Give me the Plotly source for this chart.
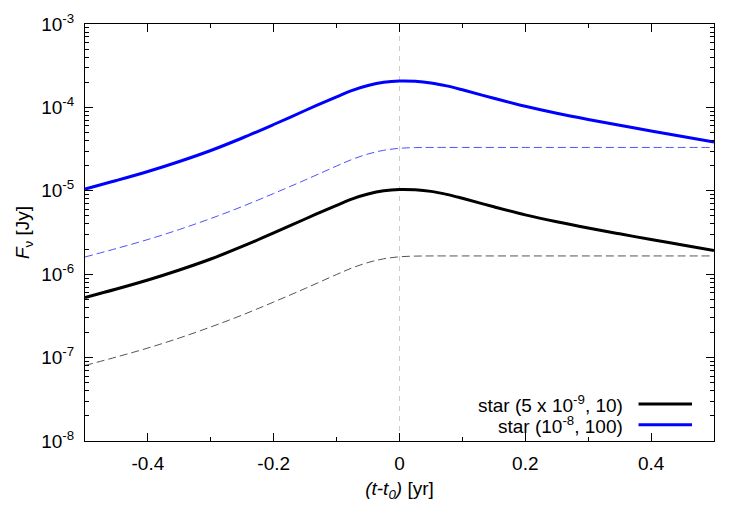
import plotly.graph_objects as go

# time relative to peak [yr]
t_solid = [-0.5, -0.45, -0.4, -0.35, -0.3, -0.25, -0.2, -0.15, -0.1, -0.075, -0.05, -0.025, 0.0,
           0.025, 0.05, 0.075, 0.1, 0.15, 0.2, 0.25, 0.3, 0.35, 0.4, 0.45, 0.5]
blue_solid = [1.051e-5, 1.329e-5, 1.704e-5, 2.246e-5, 3.043e-5, 4.297e-5, 6.236e-5, 9.18e-5, 1.340e-4, 1.604e-4,
              1.831e-4, 2.000e-4, 2.073e-4, 2.056e-4, 1.967e-4, 1.811e-4, 1.626e-4, 1.286e-4, 1.031e-4, 8.50e-5,
              7.16e-5, 6.10e-5, 5.21e-5, 4.48e-5, 3.85e-5]
black_solid = [5.25e-7, 6.64e-7, 8.52e-7, 1.123e-6, 1.52e-6, 2.15e-6, 3.12e-6, 4.59e-6, 6.70e-6, 8.02e-6,
               9.16e-6, 1.0e-5, 1.037e-5, 1.028e-5, 9.84e-6, 9.06e-6, 8.13e-6, 6.43e-6, 5.15e-6, 4.25e-6,
               3.58e-6, 3.05e-6, 2.60e-6, 2.24e-6, 1.92e-6]

t_dash = [-0.5, -0.45, -0.4, -0.35, -0.3, -0.25, -0.2, -0.15, -0.1, -0.075, -0.05, -0.025, 0.0,
          0.025, 0.05, 0.1, 0.2, 0.3, 0.4, 0.5]
blue_dash = [1.608e-6, 2.033e-6, 2.607e-6, 3.436e-6, 4.655e-6, 6.482e-6, 9.284e-6, 1.348e-5, 1.983e-5, 2.386e-5,
             2.763e-5, 3.059e-5, 3.233e-5, 3.296e-5, 3.31e-5, 3.31e-5, 3.31e-5, 3.31e-5, 3.31e-5, 3.31e-5]
black_dash = [8.04e-8, 1.017e-7, 1.303e-7, 1.718e-7, 2.33e-7, 3.24e-7, 4.64e-7, 6.74e-7, 9.92e-7, 1.193e-6,
              1.38e-6, 1.53e-6, 1.617e-6, 1.648e-6, 1.655e-6, 1.655e-6, 1.655e-6, 1.655e-6, 1.655e-6, 1.655e-6]

legend_labels = ["star (5 x 10<sup>-9</sup>, 10)", "star (10<sup>-8</sup>, 100)"]
legend_colors = ["black", "blue"]

x_tickvals = [-0.4, -0.2, 0, 0.2, 0.4]
x_ticktext = ["-0.4", "-0.2", "0", "0.2", "0.4"]
y_tickvals = [1e-8, 1e-7, 1e-6, 1e-5, 1e-4, 1e-3]
y_ticktext = ["10<sup>-8</sup>", "10<sup>-7</sup>", "10<sup>-6</sup>", "10<sup>-5</sup>", "10<sup>-4</sup>", "10<sup>-3</sup>"]

FONT = "Liberation Sans, Arial, sans-serif"
FS = 19

fig = go.Figure()
fig.add_trace(go.Scatter(x=t_dash, y=black_dash, mode="lines", line=dict(color="#555555", width=1, dash="8px,4px", shape="spline"), showlegend=False))
fig.add_trace(go.Scatter(x=t_dash, y=blue_dash, mode="lines", line=dict(color="#5050ff", width=1, dash="8px,4px", shape="spline"), showlegend=False))
fig.add_trace(go.Scatter(x=t_solid, y=black_solid, mode="lines", line=dict(color="black", width=3, shape="spline"), showlegend=False))
fig.add_trace(go.Scatter(x=t_solid, y=blue_solid, mode="lines", line=dict(color="blue", width=3, shape="spline"), showlegend=False))

# vertical line at t = t0
fig.add_shape(type="line", xref="x", yref="paper", x0=0, x1=0, y0=0, y1=1,
              line=dict(color="#cccccc", width=1, dash="5px,5px"), layer="below")

# legend drawn gnuplot-style (text right, sample line after)
leg_y = [0.089, 0.039]
for lab, col, yy in zip(legend_labels, legend_colors, leg_y):
    fig.add_annotation(xref="paper", yref="paper", x=0.859, y=yy, text=lab, showarrow=False,
                       xanchor="right", yanchor="middle", font=dict(family=FONT, size=FS, color="black"))
    fig.add_shape(type="line", xref="paper", yref="paper", x0=0.880, x1=0.965, y0=yy, y1=yy,
                  line=dict(color=col, width=3))

axis_common = dict(showline=True, linecolor="black", linewidth=1, mirror="ticks", ticks="inside",
                   showgrid=False, zeroline=False, tickcolor="black",
                   tickfont=dict(family=FONT, size=FS, color="black"))

fig.update_xaxes(range=[-0.5, 0.5], tickvals=x_tickvals, ticktext=x_ticktext, ticklen=8,
                 ticklabelstandoff=5,
                 minor=dict(ticks="inside", dtick=0.1, tick0=0, ticklen=4, tickcolor="black"),
                 title=dict(text="<i>(t-t<sub>0</sub>)</i> [yr]", font=dict(family=FONT, size=FS, color="black"), standoff=8),
                 **axis_common)
fig.update_yaxes(type="log", range=[-8, -3], tickvals=y_tickvals, ticktext=y_ticktext, ticklen=8,
                 ticklabelstandoff=6,
                 minor=dict(ticks="inside", dtick="D1", ticklen=4, tickcolor="black"),
                 title=dict(text="<i>F</i><sub>ν</sub> [Jy]", font=dict(family=FONT, size=FS, color="black"), standoff=6),
                 **axis_common)

fig.update_layout(width=750, height=525, margin=dict(l=85, r=36, t=24, b=84),
                  paper_bgcolor="white", plot_bgcolor="white", showlegend=False,
                  font=dict(family=FONT, size=FS, color="black"))

fig.write_html("out.html")
